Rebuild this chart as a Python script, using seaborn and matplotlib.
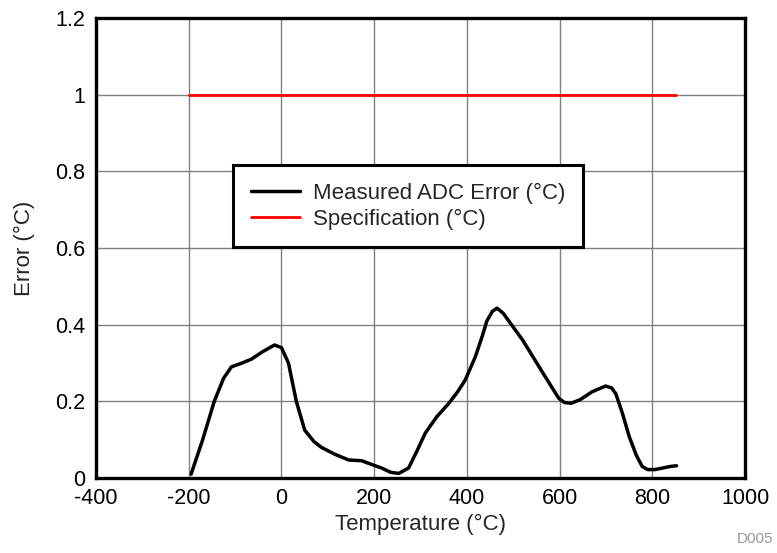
import matplotlib
matplotlib.use("Agg")
import matplotlib.pyplot as plt
import seaborn as sns
import pandas as pd

temps = [-195, -170, -145, -125, -108, -85, -65, -40, -15, 0, 15, 32, 50, 70, 86,
         115, 145, 173, 195, 216, 235, 253, 274, 292, 310, 335, 361, 380, 396, 418,
         433, 443, 455, 465, 478, 490, 520, 547, 569, 584, 598, 610, 625, 645, 670,
         699, 712, 721, 735, 750, 765, 778, 790, 805, 822, 838, 852]
errors = [0.01, 0.10, 0.20, 0.26, 0.29, 0.30, 0.31, 0.33, 0.347, 0.34, 0.30, 0.20, 0.125, 0.095, 0.08,
          0.062, 0.047, 0.045, 0.035, 0.026, 0.015, 0.012, 0.026, 0.07, 0.117, 0.16, 0.195, 0.225, 0.255, 0.316,
          0.37, 0.41, 0.435, 0.443, 0.43, 0.41, 0.36, 0.307, 0.264, 0.235, 0.208, 0.197, 0.195, 0.205, 0.225,
          0.24, 0.235, 0.22, 0.17, 0.108, 0.06, 0.03, 0.022, 0.022, 0.026, 0.03, 0.032]
spec_temps = [-200, 850]
spec_values = [1.0, 1.0]

x_ticks = [-400, -200, 0, 200, 400, 600, 800, 1000]
y_ticks = [0, 0.2, 0.4, 0.6, 0.8, 1, 1.2]
y_tick_labels = ["0", "0.2", "0.4", "0.6", "0.8", "1", "1.2"]

sns.set_style("white")
plt.rcParams['font.family'] = ['Liberation Sans', 'DejaVu Sans']
plt.rcParams['axes.unicode_minus'] = False

fig = plt.figure(figsize=(7.77, 5.53), dpi=100)
ax = fig.add_axes([0.1236, 0.1356, 0.8354, 0.8319])

meas = pd.DataFrame({"Temperature": temps, "Error": errors})
spec = pd.DataFrame({"Temperature": spec_temps, "Error": spec_values})

sns.lineplot(data=meas, x="Temperature", y="Error", ax=ax, color="black", lw=2.5,
             label="Measured ADC Error (°C)", sort=False, zorder=3)
sns.lineplot(data=spec, x="Temperature", y="Error", ax=ax, color="#ff0000", lw=2.0,
             label="Specification (°C)", sort=False, zorder=3)

ax.set_xlim(-400, 1000)
ax.set_ylim(0, 1.2)
ax.set_xticks(x_ticks)
ax.set_xticklabels([str(t) for t in x_ticks])
ax.set_yticks(y_ticks)
ax.set_yticklabels(y_tick_labels)
ax.tick_params(axis='both', length=0, labelsize=15.5, colors='black')
ax.tick_params(axis='x', pad=7)
ax.tick_params(axis='y', pad=8)
ax.grid(True, color='#808080', lw=1.0)
ax.set_axisbelow(True)
for s in ax.spines.values():
    s.set_color('black')
    s.set_linewidth(2.4)

ax.set_xlabel("Temperature (°C)", fontsize=16, labelpad=4)
ax.set_ylabel("Error (°C)", fontsize=16, labelpad=14)

leg = ax.legend(loc='upper left', bbox_to_anchor=(0.211, 0.68), fontsize=16,
                frameon=True, fancybox=False, framealpha=1, edgecolor='black',
                handlelength=2.2, borderpad=0.8, labelspacing=0.2, handletextpad=0.6,
                borderaxespad=0)
leg.get_frame().set_linewidth(2.2)

fig.text(0.995, 0.012, "D005", ha='right', va='bottom', fontsize=11, color='#999999')

fig.savefig("out.png", dpi=100)
